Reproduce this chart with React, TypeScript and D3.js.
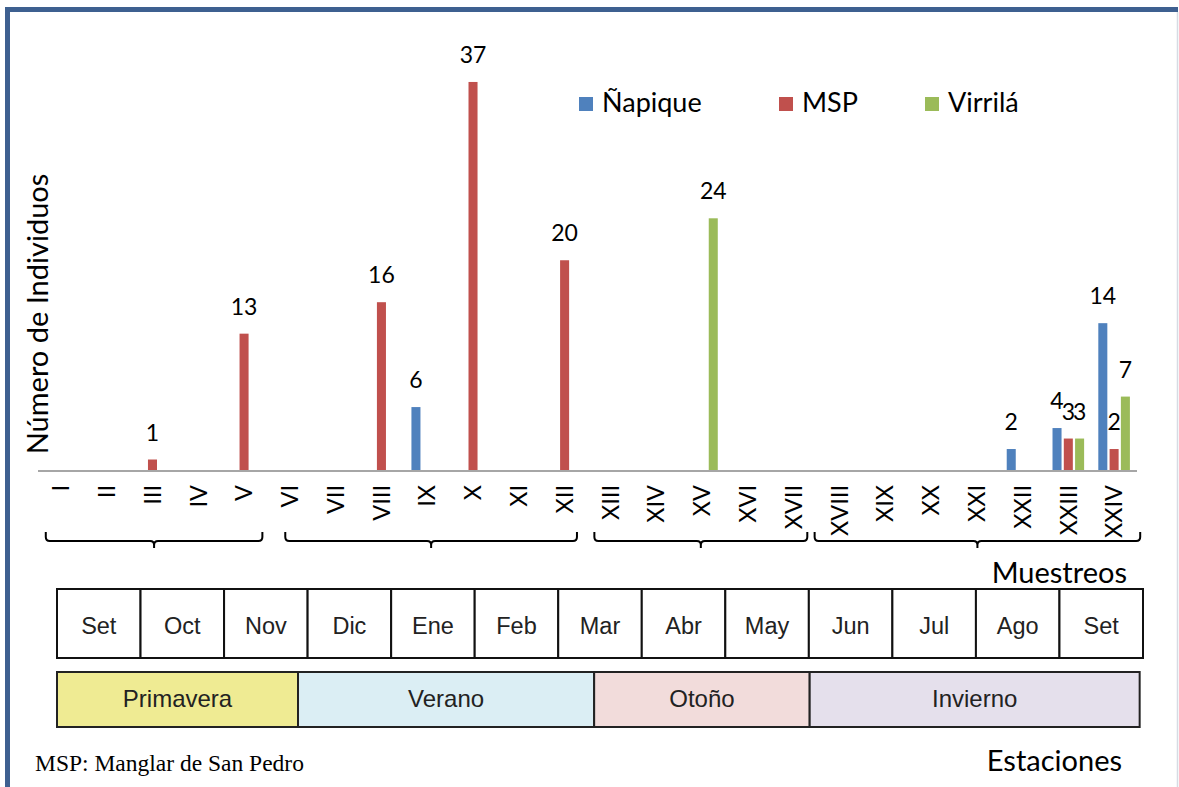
import React from "react";
import * as d3 from "d3";

const categories = ["I","II","III","IV","V","VI","VII","VIII","IX","X","XI","XII","XIII","XIV","XV","XVI","XVII","XVIII","XIX","XX","XXI","XXII","XXIII","XXIV"];
const seriesNames = ["Ñapique", "MSP", "Virrilá"];
const napique = [0,0,0,0,0,0,0,0,6,0,0,0,0,0,0,0,0,0,0,0,0,2,4,14];
const msp =     [0,0,1,0,13,0,0,16,0,37,0,20,0,0,0,0,0,0,0,0,0,0,3,2];
const virrila = [0,0,0,0,0,0,0,0,0,0,0,0,0,0,24,0,0,0,0,0,0,0,3,7];
const seriesColors = ["#4f81bd", "#c0504d", "#9bbb59"];
const months = ["Set","Oct","Nov","Dic","Ene","Feb","Mar","Abr","May","Jun","Jul","Ago","Set"];
const seasons = ["Primavera", "Verano", "Otoño", "Invierno"];
const seasonBounds = [0, 2.885, 6.43, 9.01, 12.96];
const seasonColors = ["#efeb93", "#dbeef4", "#f2dcdb", "#e5e0ec"];
const bracketSpans: [number, number][] = [[0.17, 4.9], [5.4, 11.77], [12.15, 16.8], [16.96, 24.07]];

const W = 1179, H = 787;
const SANS = "Lato, 'Open Sans', sans-serif";
const ARIAL = "'Liberation Sans', Arial, sans-serif";

export default function App() {
  const x0 = d3.scaleBand<string>().domain(categories).range([38, 1137]).padding(0);
  const bw = x0.bandwidth();
  const groupW = 31.6;
  const x1 = d3.scaleBand<string>().domain(seriesNames).range([(bw - groupW) / 2, (bw + groupW) / 2]).paddingInner(0.2).paddingOuter(0);
  const y = d3.scaleLinear().domain([0, 40]).range([470, 50.5]);
  const catIndex = d3.scaleLinear().domain([0, categories.length]).range([38, 1137]);
  const xm = d3.scaleLinear().domain([0, months.length]).range([57, 1143]);
  const data = [napique, msp, virrila];

  const bars: any[] = [];
  const labels: any[] = [];
  categories.forEach((c, i) => {
    seriesNames.forEach((s, k) => {
      const v = data[k][i];
      if (!v) return;
      const bx = (x0(c) as number) + (x1(s) as number);
      bars.push(<rect key={`b${i}-${k}`} x={bx} y={y(v)} width={x1.bandwidth()} height={y(0) - y(v)} fill={seriesColors[k]} />);
      labels.push(<text key={`l${i}-${k}`} x={bx + x1.bandwidth() / 2} y={y(v) - 19} textAnchor="middle" fontSize={23} fontFamily={SANS} fill="#000">{v}</text>);
    });
  });

  const bracketPath = (a: number, b: number) => {
    const x1p = catIndex(a), x2p = catIndex(b), mid = (x1p + x2p) / 2;
    return `M${x1p},532 V537 Q${x1p},541 ${x1p + 4},541 H${mid - 4} Q${mid},541 ${mid},545 V548 M${mid},545 Q${mid},541 ${mid + 4},541 H${x2p - 4} Q${x2p},541 ${x2p},537 V532`;
  };

  const legendX = [579, 779, 925];

  return (
    <svg width={W} height={H} style={{ position: "absolute", left: 0, top: 0, background: "#fff" }}>
      <rect x={0} y={0} width={W} height={H} fill="#fff" />
      {/* frame */}
      <path d="M7.5,787 V9.5 H1178" fill="none" stroke="#3e6090" strokeWidth={5} />
      <line x1={1177.5} y1={12} x2={1177.5} y2={787} stroke="#d6dce4" strokeWidth={1.5} />

      {/* y title */}
      <text transform="translate(38,314) rotate(-90)" textAnchor="middle" dy="0.35em" fontSize={29} fontFamily={SANS} fill="#000">Número de Individuos</text>

      {/* legend */}
      {seriesNames.map((s, k) => (
        <g key={s}>
          <rect x={legendX[k]} y={97} width={14} height={14} fill={seriesColors[k]} />
          <text x={legendX[k] + 23} y={112} fontSize={27} fontFamily={SANS} fill="#000">{s}</text>
        </g>
      ))}

      {bars}
      {labels}
      <line x1={38} x2={1137} y1={y(0) + 1} y2={y(0) + 1} stroke="#a6a6a6" strokeWidth={2} />

      {/* category labels */}
      {categories.map((c) => (
        <text key={c} transform={`translate(${(x0(c) as number) + bw / 2},485) rotate(-90)`} textAnchor="end" dy="0.35em" fontSize={23.5} fontFamily={SANS} fill="#000">{c}</text>
      ))}

      {/* brackets */}
      {bracketSpans.map(([a, b], i) => (
        <path key={i} d={bracketPath(a, b)} fill="none" stroke="#000" strokeWidth={2} />
      ))}

      <text x={1127} y={583} textAnchor="end" fontSize={29} fontFamily={SANS} fill="#000">Muestreos</text>

      {/* months table */}
      {months.map((m, i) => (
        <g key={i}>
          <rect x={xm(i)} y={589} width={xm(i + 1) - xm(i)} height={69} fill="#fff" stroke="#111" strokeWidth={2} />
          <text x={(xm(i) + xm(i + 1)) / 2} y={634} textAnchor="middle" fontSize={23.5} fontFamily={ARIAL} fill="#222">{m}</text>
        </g>
      ))}

      {/* seasons */}
      {seasons.map((s, i) => (
        <g key={s}>
          <rect x={xm(seasonBounds[i])} y={672} width={xm(seasonBounds[i + 1]) - xm(seasonBounds[i])} height={55} fill={seasonColors[i]} stroke="#222" strokeWidth={2} />
          <text x={(xm(seasonBounds[i]) + xm(seasonBounds[i + 1])) / 2} y={707} textAnchor="middle" fontSize={24} fontFamily={ARIAL} fill="#222">{s}</text>
        </g>
      ))}

      <text x={35} y={771} fontSize={23.5} fontFamily="'Liberation Serif', 'Times New Roman', serif" fill="#000">MSP: Manglar de San Pedro</text>
      <text x={1122} y={771} textAnchor="end" fontSize={29} fontFamily={SANS} fill="#000">Estaciones</text>
    </svg>
  );
}
